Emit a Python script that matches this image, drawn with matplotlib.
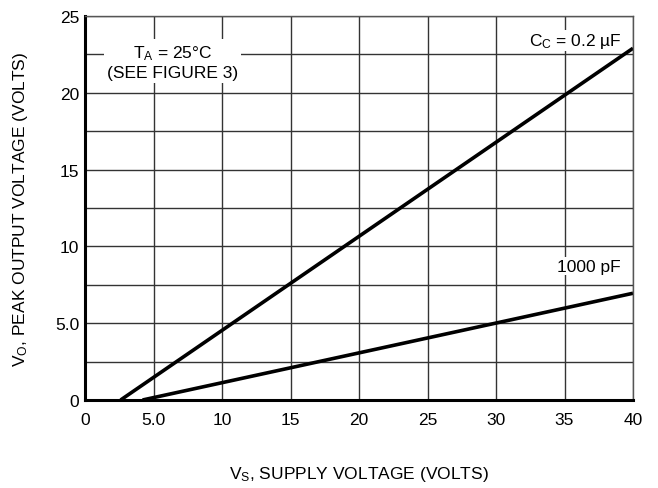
import numpy as np
import matplotlib
matplotlib.use("Agg")
import matplotlib.pyplot as plt

plt.rcParams['font.family'] = ['Liberation Sans', 'DejaVu Sans']
plt.rcParams['mathtext.fontset'] = 'custom'
plt.rcParams['mathtext.rm'] = 'Liberation Sans'
plt.rcParams['mathtext.it'] = 'Liberation Sans'

# supply voltage (V) vs peak output voltage (V)
vs_02uF = [2.6, 40]
vo_02uF = [0, 22.9]
vs_1000pF = [4.2, 40]
vo_1000pF = [0, 6.95]

xticks = [0, 5, 10, 15, 20, 25, 30, 35, 40]
xticklabels = ["0", "5.0", "10", "15", "20", "25", "30", "35", "40"]
yticks = [0, 5, 10, 15, 20, 25]
yticklabels = ["0", "5.0", "10", "15", "20", "25"]

fig = plt.figure(figsize=(6.58, 4.89), dpi=100)
ax = fig.add_axes([85/658, 88/489, 548/658, 384/489])

ax.set_xlim(0, 40)
ax.set_ylim(0, 25)
ax.set_xticks(xticks)
ax.set_yticks(np.arange(0, 25.1, 2.5))
ax.grid(True, color="#333333", lw=1.0)
ax.set_axisbelow(True)

# only label whole ticks, keep the 2.5 grid lines
ax.set_xticklabels(xticklabels)
ylabs = []
for v in np.arange(0, 25.1, 2.5):
    if v in yticks:
        ylabs.append(yticklabels[yticks.index(v)])
    else:
        ylabs.append("")
ax.set_yticklabels(ylabs)
ax.tick_params(axis="x", length=0, labelsize=12.5, pad=9)
ax.tick_params(axis="y", length=0, labelsize=12.5, pad=4)

ax.plot(vs_02uF, vo_02uF, color="black", lw=2.6, solid_capstyle="butt")
ax.plot(vs_1000pF, vo_1000pF, color="black", lw=2.6, solid_capstyle="butt")

for s in ["left", "bottom"]:
    ax.spines[s].set_linewidth(2.2)
    ax.spines[s].set_color("black")
for s in ["top", "right"]:
    ax.spines[s].set_linewidth(1.0)
    ax.spines[s].set_color("#555555")

ax.text(6.4, 22.0, "$\\mathregular{T_A}$ = 25°C\n(SEE FIGURE 3)", ha="center", va="center",
        fontsize=12.5, linespacing=1.25,
        bbox=dict(facecolor="white", edgecolor="none", pad=2))
ax.text(39.2, 23.4, "$\\mathregular{C_C}$ = 0.2 µF", ha="right", va="center", fontsize=12.5,
        bbox=dict(facecolor="white", edgecolor="none", pad=1))
ax.text(39.1, 8.7, "1000 pF", ha="right", va="center", fontsize=12.5,
        bbox=dict(facecolor="white", edgecolor="none", pad=1))

ax.set_xlabel("$\\mathregular{V_S}$, SUPPLY VOLTAGE (VOLTS)", fontsize=12.5, labelpad=26)
ax.set_ylabel("$\\mathregular{V_O}$, PEAK OUTPUT VOLTAGE (VOLTS)", fontsize=12.5, labelpad=18)

plt.savefig("out.png", dpi=100)
